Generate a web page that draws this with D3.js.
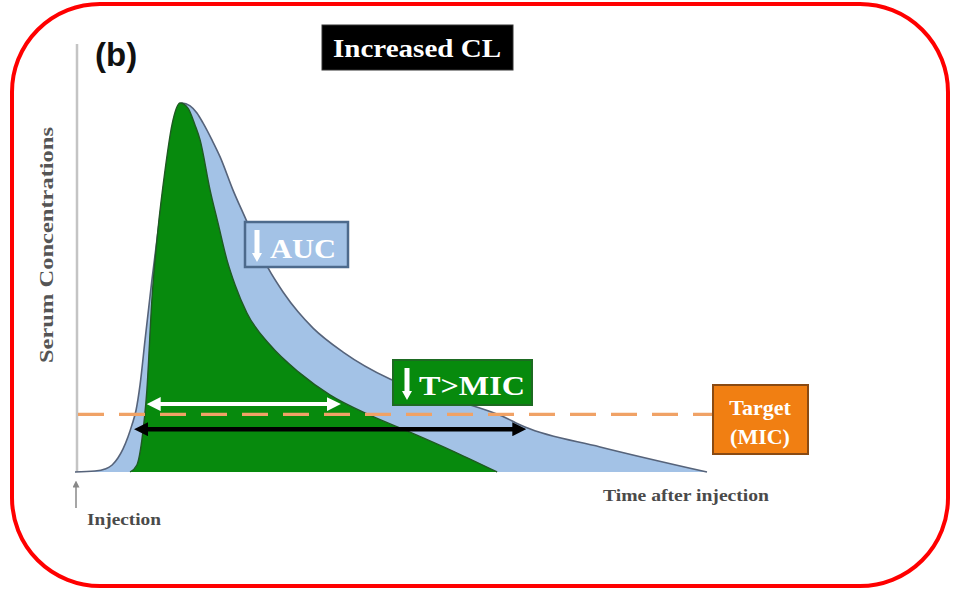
<!DOCTYPE html>
<html>
<head>
<meta charset="utf-8">
<script src="https://cdn.jsdelivr.net/npm/d3@7"></script>
<style>
  html, body { margin: 0; padding: 0; background: #fff; }
  svg { display: block; }
</style>
</head>
<body>
<svg id="chart" width="960" height="591"></svg>
<script>
// Concentration–time profiles (time in h, concentration as % of peak)
const normalTime = [0, 0.76, 1.14, 1.41, 1.63, 1.82, 2.01, 2.16, 2.32, 2.47, 2.66, 2.92, 3.23, 3.53, 3.8, 4.06, 4.37, 4.63, 4.86, 5.2, 5.51, 6.0, 6.53, 6.95, 7.33, 7.9, 8.47, 9.04, 10.18, 11.96, 13.48, 15.0, 16.14, 17.09, 19.94, 24];
const normalConc = [0, 0.27, 0.81, 1.9, 3.8, 6.2, 9.5, 12.7, 16.8, 23.6, 35.8, 52.0, 69.6, 85.9, 96.7, 100, 99.2, 97.3, 94.6, 90.0, 85.4, 76.4, 67.8, 60.7, 55.3, 48.8, 43.4, 39.0, 32.5, 25.2, 21.1, 18.2, 15.4, 12.2, 6.8, 0];

const fastTime = [2.09, 2.35, 2.54, 2.73, 2.92, 3.15, 3.42, 3.68, 3.99, 4.29, 4.56, 4.75, 5.13, 5.43, 5.77, 6.08, 6.53, 7.41, 8.54, 9.68, 11.2, 12.72, 14.43, 16.03];
const fastConc = [0, 1.9, 8.7, 22.2, 46.6, 65.6, 81.8, 94.0, 100, 98.6, 94.0, 90.0, 76.4, 67.5, 57.5, 50.7, 43.1, 34.4, 26.8, 20.9, 15.4, 10.8, 5.4, 0];

// Target concentration and time-above-target spans
const micLevel = [15.6];
const spanFast = [2.76, 10.06];   // white arrow, increased clearance
const spanNormal = [2.28, 17.1];  // black arrow, reference profile
const spanLevels = [18.4, 11.6];

// Labels
const panelLabel = ["(b)"];
const titleLabel = ["Increased CL"];
const axisLabels = ["Serum Concentrations", "Time after injection", "Injection"];
const boxLabels = ["AUC", "T>MIC"];
const targetLabels = ["Target", "(MIC)"];

const svg = d3.select("#chart");

const x = d3.scaleLinear().domain([0, 24]).range([75, 707]);
const y = d3.scaleLinear().domain([0, 100]).range([472, 103]);

// Outer frame
svg.append("rect")
  .attr("x", 12).attr("y", 4).attr("width", 936).attr("height", 582)
  .attr("rx", 88).attr("ry", 88)
  .attr("fill", "#fff").attr("stroke", "#ff0000").attr("stroke-width", 4);

const defs = svg.append("defs");
function arrowHead(id, color, size) {
  defs.append("marker")
    .attr("id", id).attr("viewBox", "0 0 10 10")
    .attr("refX", 5).attr("refY", 5)
    .attr("markerWidth", size).attr("markerHeight", size)
    .attr("markerUnits", "userSpaceOnUse")
    .attr("orient", "auto-start-reverse")
    .append("path").attr("d", "M0,0 L10,5 L0,10 Z").attr("fill", color);
}
arrowHead("headBlack", "#000", 14);
arrowHead("headWhite", "#fff", 14);
arrowHead("headGray", "#888", 7);

// Vertical axis
svg.append("line")
  .attr("x1", 77).attr("x2", 77).attr("y1", 44).attr("y2", y(0))
  .attr("stroke", "#c4c4c4").attr("stroke-width", 2.5);

const area = (tt, cc) => d3.area()
  .x((d, i) => x(tt[i])).y0(y(0)).y1((d, i) => y(cc[i]))
  .curve(d3.curveMonotoneX)(cc);
const line = (tt, cc) => d3.line()
  .x((d, i) => x(tt[i])).y((d, i) => y(cc[i]))
  .curve(d3.curveMonotoneX)(cc);

// Reference profile
svg.append("path").attr("d", area(normalTime, normalConc)).attr("fill", "#a3c2e6");
svg.append("path").attr("d", line(normalTime, normalConc))
  .attr("fill", "none").attr("stroke", "#56637a").attr("stroke-width", 1.6);

// Increased-clearance profile
svg.append("path").attr("d", area(fastTime, fastConc)).attr("fill", "#078a0d");
svg.append("path").attr("d", line(fastTime, fastConc))
  .attr("fill", "none").attr("stroke", "#1f5a22").attr("stroke-width", 1.4);

// Target line
svg.append("line")
  .attr("x1", 78).attr("x2", 712).attr("y1", y(micLevel[0])).attr("y2", y(micLevel[0]))
  .attr("stroke", "#f0a266").attr("stroke-width", 3.2)
  .attr("stroke-dasharray", "26,15");

// Time-above-target spans
svg.append("line")
  .attr("x1", x(spanFast[0]) + 6).attr("x2", x(spanFast[1]) - 6)
  .attr("y1", y(spanLevels[0])).attr("y2", y(spanLevels[0]))
  .attr("stroke", "#fff").attr("stroke-width", 4)
  .attr("marker-start", "url(#headWhite)").attr("marker-end", "url(#headWhite)");
svg.append("line")
  .attr("x1", x(spanNormal[0]) + 6).attr("x2", x(spanNormal[1]) - 6)
  .attr("y1", y(spanLevels[1])).attr("y2", y(spanLevels[1]))
  .attr("stroke", "#000").attr("stroke-width", 4.5)
  .attr("marker-start", "url(#headBlack)").attr("marker-end", "url(#headBlack)");

// Labelled boxes
function downArrow(cx, top, bottom) {
  svg.append("path")
    .attr("d", `M${cx - 2.5},${top} L${cx + 2.5},${top} L${cx + 2.5},${bottom - 9} L${cx + 5},${bottom - 9} L${cx},${bottom} L${cx - 5},${bottom - 9} L${cx - 2.5},${bottom - 9} Z`)
    .attr("fill", "#fff");
}
const serif = "'Liberation Serif', 'Times New Roman', serif";

svg.append("rect").attr("x", 245).attr("y", 222).attr("width", 103).attr("height", 45)
  .attr("fill", "#a3c2e6").attr("stroke", "#4d6a8c").attr("stroke-width", 2.5);
downArrow(257, 230, 262);
svg.append("text").attr("x", 270).attr("y", 258).text(boxLabels[0])
  .attr("font-family", serif).attr("font-weight", "bold").attr("font-size", 27)
  .attr("fill", "#fff").attr("textLength", 66).attr("lengthAdjust", "spacingAndGlyphs");

svg.append("rect").attr("x", 393).attr("y", 360).attr("width", 139).attr("height", 45)
  .attr("fill", "#078a0d").attr("stroke", "#1d6a22").attr("stroke-width", 2);
downArrow(407, 368, 400);
svg.append("text").attr("x", 419).attr("y", 395).text(boxLabels[1])
  .attr("font-family", serif).attr("font-weight", "bold").attr("font-size", 27)
  .attr("fill", "#fff").attr("textLength", 106).attr("lengthAdjust", "spacingAndGlyphs");

svg.append("rect").attr("x", 713).attr("y", 385).attr("width", 95).attr("height", 69)
  .attr("fill", "#f17f12").attr("stroke", "#8a4a12").attr("stroke-width", 2);
svg.append("text").attr("x", 760).attr("y", 415).text(targetLabels[0])
  .attr("text-anchor", "middle").attr("font-family", serif).attr("font-weight", "bold")
  .attr("font-size", 22).attr("fill", "#fff");
svg.append("text").attr("x", 760).attr("y", 444).text(targetLabels[1])
  .attr("text-anchor", "middle").attr("font-family", serif).attr("font-weight", "bold")
  .attr("font-size", 22).attr("fill", "#fff");

// Title
svg.append("rect").attr("x", 322).attr("y", 25).attr("width", 191).attr("height", 45)
  .attr("fill", "#000").attr("stroke", "#333").attr("stroke-width", 1);
svg.append("text").attr("x", 417).attr("y", 57).text(titleLabel[0])
  .attr("text-anchor", "middle").attr("font-family", serif).attr("font-weight", "bold")
  .attr("font-size", 26).attr("fill", "#fff")
  .attr("textLength", 168).attr("lengthAdjust", "spacingAndGlyphs");

svg.append("text").attr("x", 95).attr("y", 66).text(panelLabel[0])
  .attr("font-family", "'Liberation Sans', Arial, sans-serif").attr("font-weight", "bold")
  .attr("font-size", 33).attr("fill", "#111");

// Axis titles
svg.append("text")
  .attr("transform", "translate(53,245) rotate(-90)")
  .attr("text-anchor", "middle").text(axisLabels[0])
  .attr("font-family", serif).attr("font-weight", "bold").attr("font-size", 19)
  .attr("fill", "#555").attr("textLength", 236).attr("lengthAdjust", "spacingAndGlyphs");

svg.append("text").attr("x", 603).attr("y", 501).text(axisLabels[1])
  .attr("font-family", serif).attr("font-weight", "bold").attr("font-size", 16)
  .attr("fill", "#4a4a4a").attr("textLength", 166).attr("lengthAdjust", "spacingAndGlyphs");

svg.append("text").attr("x", 87).attr("y", 525).text(axisLabels[2])
  .attr("font-family", serif).attr("font-weight", "bold").attr("font-size", 16)
  .attr("fill", "#4a4a4a").attr("textLength", 74).attr("lengthAdjust", "spacingAndGlyphs");

// Injection marker
svg.append("line").attr("x1", 76).attr("x2", 76).attr("y1", 508).attr("y2", 484)
  .attr("stroke", "#888").attr("stroke-width", 1.5)
  .attr("marker-end", "url(#headGray)");
</script>
</body>
</html>
